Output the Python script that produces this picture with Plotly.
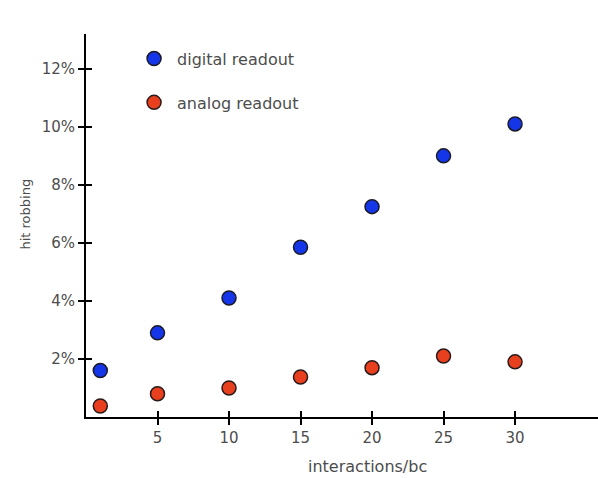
import plotly.graph_objects as go

interactions = [1, 5, 10, 15, 20, 25, 30]
digital_readout = [1.6, 2.9, 4.1, 5.85, 7.25, 9.0, 10.1]
analog_readout = [0.38, 0.8, 1.0, 1.38, 1.7, 2.1, 1.9]
x_ticks = [5, 10, 15, 20, 25, 30]
y_ticks = [2, 4, 6, 8, 10, 12]
y_tick_labels = ["2%", "4%", "6%", "8%", "10%", "12%"]
x_title = "interactions/bc"
y_title = "hit robbing"

FAM = "DejaVu Sans, Arial, sans-serif"
TXT = "#4d4d4d"

fig = go.Figure()
fig.add_trace(go.Scatter(x=interactions, y=digital_readout, mode="markers", name="digital readout",
                         legendgroup="d",
                         marker=dict(size=14, color="#1536e8", line=dict(color="#1a1a2a", width=1.5))))
fig.add_trace(go.Scatter(x=interactions, y=analog_readout, mode="markers", name="analog readout",
                         legendgroup="a",
                         marker=dict(size=14, color="#e8401f", line=dict(color="#2a1a1a", width=1.5))))

axis_common = dict(showline=True, linecolor="black", linewidth=2, showgrid=False, zeroline=False,
                   ticks="outside", ticklen=6, tickwidth=2, tickcolor="black",
                   tickfont=dict(family=FAM, size=15, color=TXT))

fig.update_layout(
    width=598, height=478,
    margin=dict(l=86, r=0, t=34, b=61),
    paper_bgcolor="white", plot_bgcolor="white",
    font=dict(family=FAM, size=15, color=TXT),
    showlegend=True,
    legend=dict(x=0.088, y=0.98, xanchor="left", yanchor="top", tracegroupgap=20,
                font=dict(family=FAM, size=16, color=TXT),
                bgcolor="rgba(0,0,0,0)", itemwidth=36),
    xaxis=dict(range=[0, 35.8], tickvals=x_ticks, **axis_common),
    yaxis=dict(range=[0, 13.2], tickvals=y_ticks, ticktext=y_tick_labels, **axis_common),
    xaxis2=dict(range=[0, 35.8], overlaying="x", anchor="y", side="bottom", tickvals=x_ticks,
                showticklabels=False, ticks="inside", ticklen=6, tickwidth=2, tickcolor="black",
                showgrid=False, zeroline=False, showline=False),
    yaxis2=dict(range=[0, 13.2], overlaying="y", anchor="x", side="left", tickvals=y_ticks,
                showticklabels=False, ticks="inside", ticklen=6, tickwidth=2, tickcolor="black",
                showgrid=False, zeroline=False, showline=False),
    annotations=[
        dict(text=x_title, xref="paper", yref="paper", x=0.549, y=-0.13, xanchor="center", yanchor="middle",
             showarrow=False, font=dict(family=FAM, size=16, color=TXT)),
        dict(text=y_title, xref="paper", yref="paper", x=-0.12, y=0.53, xanchor="center", yanchor="middle",
             textangle=-90, showarrow=False, font=dict(family=FAM, size=13, color=TXT)),
    ],
)
# invisible trace to activate the secondary inside-tick axes
fig.add_trace(go.Scatter(x=[interactions[0]], y=[analog_readout[0]], xaxis="x2", yaxis="y2",
                         mode="markers", marker=dict(opacity=0), showlegend=False, hoverinfo="skip"))

fig.write_html("out.html")
